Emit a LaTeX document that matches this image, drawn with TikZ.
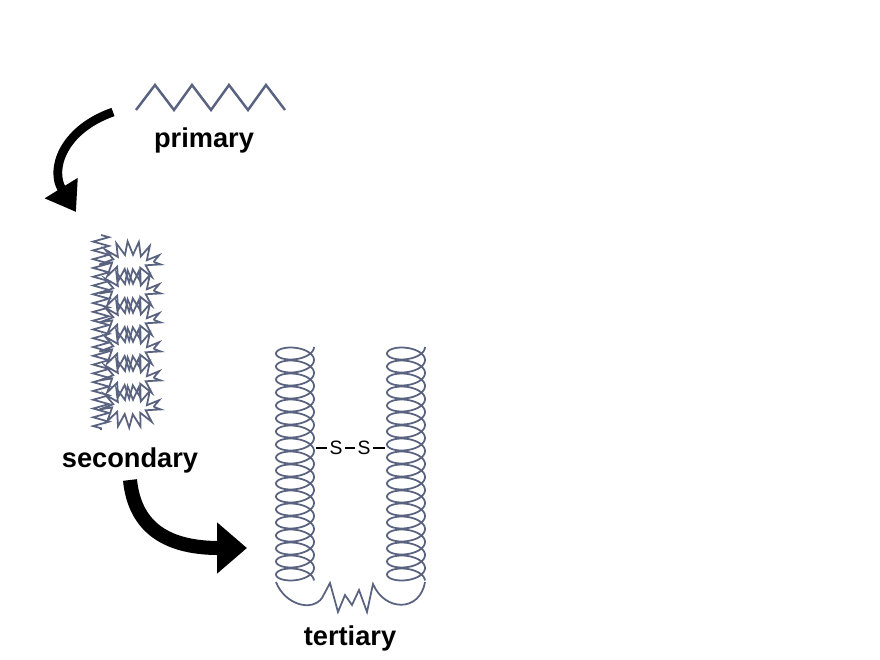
\documentclass[tikz,border=0pt]{standalone}
\usepackage{fontspec}
\setmainfont{Liberation Sans}
\usetikzlibrary{arrows.meta,decorations.pathmorphing}
\definecolor{chain}{HTML}{59627F}
\tikzset{
  chainline/.style={draw=chain,line width=1.4pt},
  label/.style={font=\bfseries\fontsize{15.5}{18}\selectfont},
  bigarrow/.style n args={3}{-{Triangle[length=#2,width=#3]},line width=#1},
  spiky/.style={chainline,line width=1pt,decorate,decoration={zigzag,segment length=5.5pt,amplitude=3.8pt}},
  sulfur/.style={font=\fontsize{11}{13}\selectfont,inner sep=1.5pt}
}
\begin{document}
\begin{tikzpicture}[x=0.02cm,y=-0.02cm]
  \useasboundingbox (0,0) rectangle (880,660);

  % primary
  \draw[chainline] (136,110) -- (155,85) -- (174,110) -- (192,85) -- (211,110)
    -- (229,85) -- (248,110) -- (266,85) -- (285,110);
  \node[label] (prim) at (204,140) {primary};

  % secondary
  \foreach \k in {0,...,5}
    \draw[spiky] (130,{262+29*\k}) ellipse (24 and 14);
  \draw[chainline,line width=1pt,decorate,decoration={zigzag,segment length=5pt,amplitude=4.5pt}] (101,235) -- (101,430);
  \node[label] (sec) at (130,460) {secondary};

  % tertiary
  \draw[chainline,line width=1pt] plot[domain=0:18,samples=700,variable=\t]
    ({295+19*cos(\t*360)},{347+13*\t+9*sin(\t*360)});
  \draw[chainline,line width=1pt] plot[domain=0:18,samples=700,variable=\t]
    ({406+19*cos(\t*360)},{347+13*\t+9*sin(\t*360)});
  \draw[chainline,line width=1pt] (276,582) .. controls (285,605) and (312,612) .. (322,598)
    -- (330,583) -- (338,612) -- (345,595) -- (352,605) -- (359,590) -- (367,612) -- (373,584)
    .. controls (385,612) and (420,612) .. (425,582);
  \node[sulfur] (s1) at (336,448) {S};
  \node[sulfur] (s2) at (364,448) {S};
  \coordinate (hl) at (316,448);
  \coordinate (hr) at (385,448);
  \draw[line width=0.6pt] (hl) -- (s1) -- (s2) -- (hr);
  \node[label] (ter) at (350,638) {tertiary};

  % arrows
  \coordinate (a1s) at (113,112);
  \coordinate (a1e) at (76,212);
  \draw[bigarrow={5pt}{16pt}{21pt}] (a1s) .. controls (62,130) and (50,170) .. (a1e);
  \coordinate (a2s) at (130,480);
  \coordinate (a2e) at (247,548);
  \draw[bigarrow={8pt}{17pt}{28pt}] (a2s) .. controls (135,530) and (170,548) .. (a2e);
\end{tikzpicture}
\end{document}
